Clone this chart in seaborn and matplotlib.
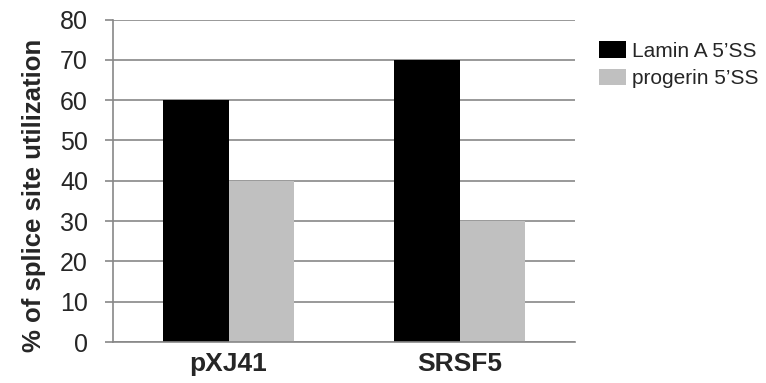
import pandas as pd
import matplotlib
matplotlib.use('Agg')
import matplotlib.pyplot as plt
import seaborn as sns

# values
samples = ['pXJ41', 'SRSF5']
lamin_a = [60, 70]
progerin = [40, 30]
series_names = ['Lamin A 5\u2019SS', 'progerin 5\u2019SS']

df = pd.DataFrame({
    'sample': samples * 2,
    'value': lamin_a + progerin,
    'site': [series_names[0]] * 2 + [series_names[1]] * 2,
})

sns.set_style('white')
plt.rcParams['font.family'] = ['Liberation Sans', 'DejaVu Sans']

fig = plt.figure(figsize=(7.66, 3.83), dpi=100)
ax = fig.add_axes([113 / 766, 41 / 383, 462 / 766, 322.5 / 383])

sns.barplot(data=df, x='sample', y='value', hue='site',
            palette=['#000000', '#c0c0c0'], width=0.57,
            saturation=1, linewidth=0, ax=ax)

grid_col = '#878787'
ax.set_ylim(0, 80)
ax.set_xlim(-0.5, 1.5)
ax.set_yticks(range(0, 81, 10))
ax.yaxis.grid(True, color=grid_col, linewidth=1.2)
ax.set_axisbelow(True)
for side in ['top', 'right']:
    ax.spines[side].set_visible(False)
for side in ['left', 'bottom']:
    ax.spines[side].set_color(grid_col)
    ax.spines[side].set_linewidth(1.2)

ax.tick_params(axis='y', left=True, length=6, width=1.2, color=grid_col,
               pad=12, labelsize=18)
ax.tick_params(axis='x', bottom=False, labelsize=19, pad=4)
for lbl in ax.get_xticklabels():
    lbl.set_fontweight('bold')

ax.set_xlabel('')
ax.set_ylabel('% of splice site utilization', fontsize=18.5, fontweight='bold')
ax.yaxis.set_label_coords(-0.146, 0.456)

ax.legend_.remove()
handles, labels = ax.get_legend_handles_labels()
fig.legend(handles, labels, loc='upper left',
           bbox_to_anchor=(599 / 766, 1 - 41 / 383), frameon=False,
           fontsize=15, borderpad=0, borderaxespad=0,
           handlelength=1.3, handleheight=0.85, handletextpad=0.3,
           labelspacing=0.4)

fig.savefig('out.png', dpi=100)
